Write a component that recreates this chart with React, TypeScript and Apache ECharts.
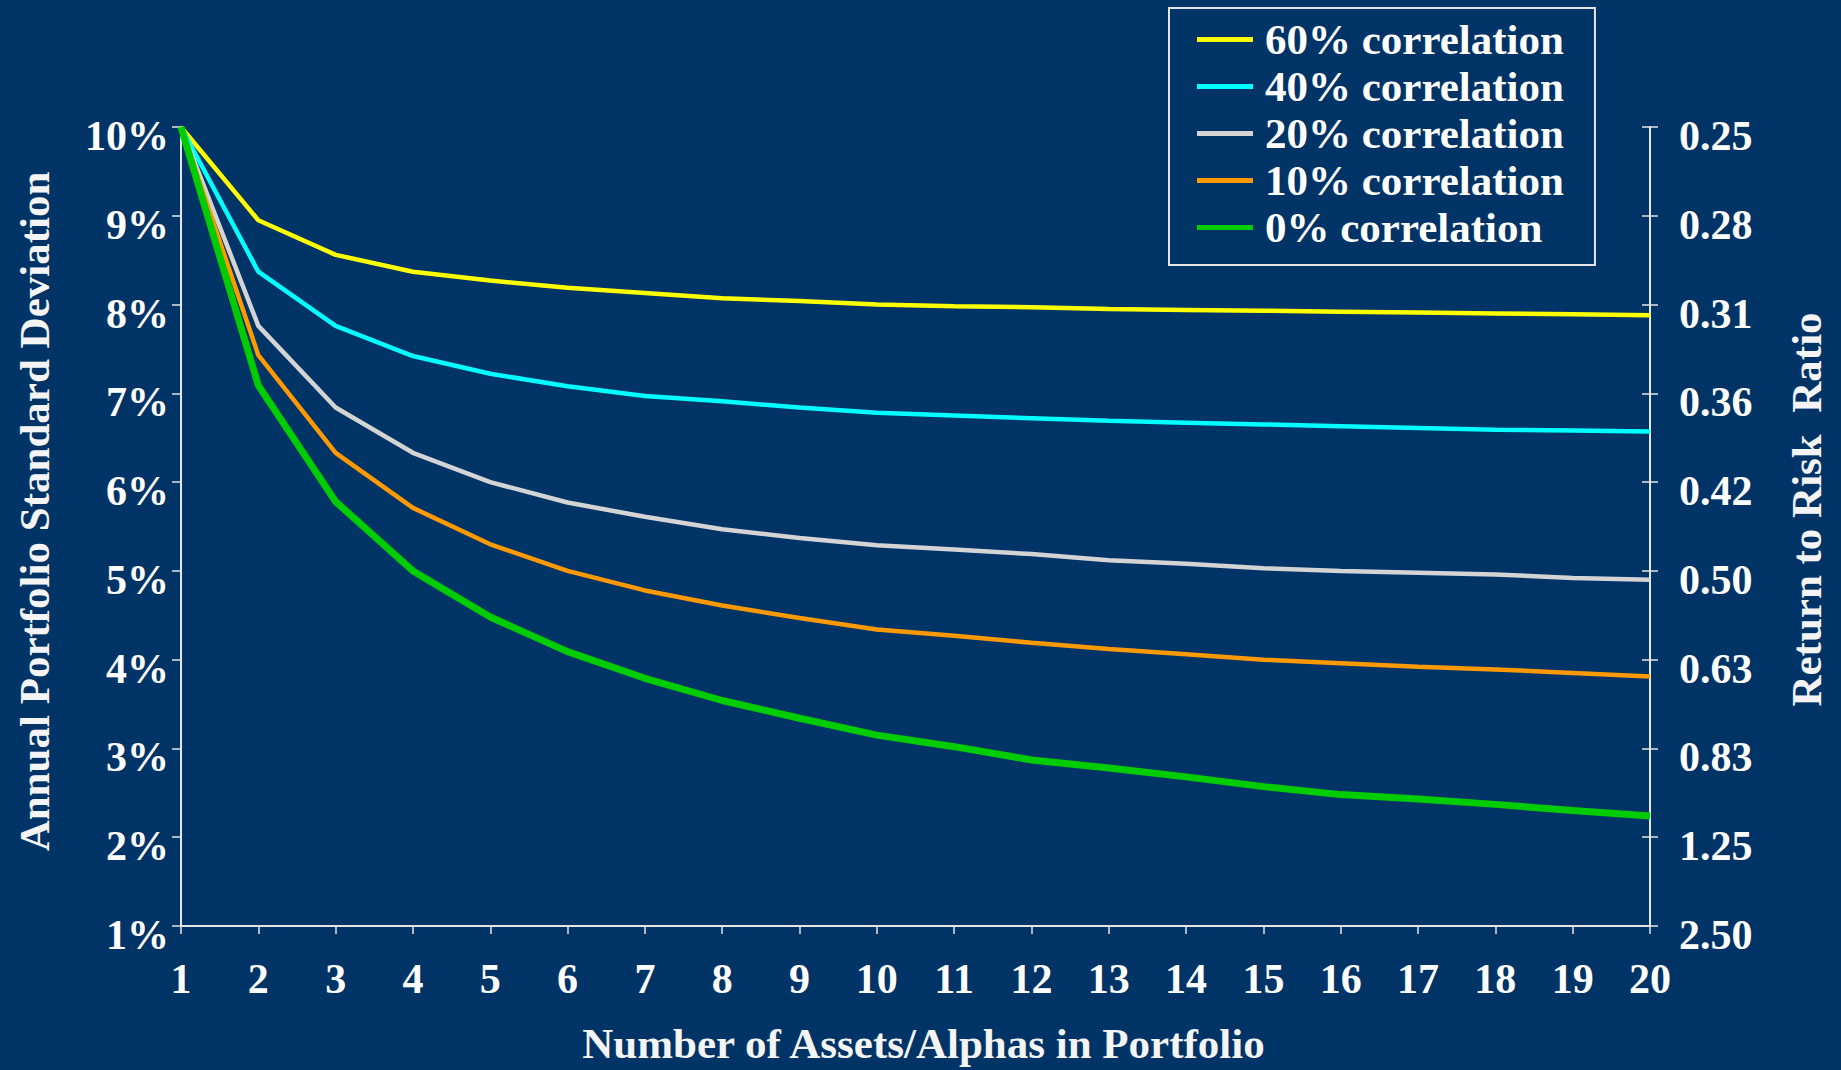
import React, { useEffect, useRef } from "react";
import * as echarts from "echarts";

const assetCounts = [1, 2, 3, 4, 5, 6, 7, 8, 9, 10, 11, 12, 13, 14, 15, 16, 17, 18, 19, 20];
const seriesNames = ["60% correlation", "40% correlation", "20% correlation", "10% correlation", "0% correlation"];
const seriesColors = ["#ffff00", "#00ffff", "#d4d4d4", "#ff9900", "#00cc00"];
const corr60 = [10, 8.95, 8.56, 8.37, 8.27, 8.19, 8.13, 8.07, 8.04, 8.0, 7.98, 7.97, 7.95, 7.94, 7.93, 7.92, 7.91, 7.9, 7.89, 7.88];
const corr40 = [10, 8.37, 7.76, 7.42, 7.22, 7.08, 6.97, 6.91, 6.84, 6.78, 6.75, 6.72, 6.69, 6.67, 6.65, 6.63, 6.61, 6.59, 6.58, 6.57];
const corr20 = [10, 7.76, 6.84, 6.33, 6.0, 5.77, 5.61, 5.47, 5.37, 5.29, 5.24, 5.19, 5.12, 5.08, 5.03, 5.0, 4.98, 4.96, 4.92, 4.9];
const corr10 = [10, 7.43, 6.33, 5.71, 5.3, 5.0, 4.78, 4.61, 4.47, 4.34, 4.27, 4.19, 4.12, 4.06, 4.0, 3.96, 3.92, 3.89, 3.85, 3.81];
const corr0 = [10, 7.09, 5.78, 5.0, 4.48, 4.09, 3.79, 3.54, 3.34, 3.15, 3.02, 2.87, 2.78, 2.68, 2.57, 2.48, 2.43, 2.37, 2.3, 2.24];
const seriesValues = [corr60, corr40, corr20, corr10, corr0];
const seriesWidths = [4.5, 4.5, 4.5, 4.5, 7];
// right-axis tick labels for 1%..10%
const ratioLabels = ["2.50", "1.25", "0.83", "0.63", "0.50", "0.42", "0.36", "0.31", "0.28", "0.25"];

const FONT = "'Liberation Serif', 'Times New Roman', serif";
const BG = "#003366";
const AXIS = "#e6e6e6";

export default function App() {
  const ref = useRef<HTMLDivElement>(null);

  useEffect(() => {
    if (!ref.current) return;
    const chart = echarts.init(ref.current, null, { renderer: "svg" });
    const labelStyle = { color: "#ffffff", fontFamily: FONT, fontWeight: "bold", fontSize: 42 };
    const nameStyle = { color: "#f4f4f4", fontFamily: FONT, fontWeight: "bold", fontSize: 43 };
    const lowered = { v: { ...labelStyle, padding: [18, 0, 0, 0] } };

    chart.setOption({
      animation: false,
      backgroundColor: BG,
      grid: { left: 181, right: 191, top: 127, bottom: 144, containLabel: false },
      legend: {
        orient: "vertical",
        left: 1169,
        top: 8,
        data: seriesNames,
        icon: "rect",
        itemWidth: 56,
        itemHeight: 5,
        itemGap: 0,
        padding: [8, 31, 14, 28],
        borderColor: "#e6e6e6",
        borderWidth: 2,
        backgroundColor: BG,
        selectedMode: false,
        textStyle: { ...nameStyle, color: "#ffffff", lineHeight: 47, padding: [0, 0, 0, 7] },
      },
      xAxis: {
        type: "value",
        min: 1,
        max: 20,
        interval: 1,
        name: "Number of Assets/Alphas in Portfolio",
        nameLocation: "middle",
        nameGap: 96,
        nameTextStyle: { ...nameStyle, padding: [0, 0, 0, 16] },
        axisLine: { show: true, lineStyle: { color: AXIS, width: 2 } },
        axisTick: { show: true, length: 8, lineStyle: { color: AXIS, width: 1.5 } },
        axisLabel: { ...labelStyle, margin: 32 },
        splitLine: { show: false },
      },
      yAxis: [
        {
          type: "value",
          position: "left",
          min: 1,
          max: 10,
          interval: 1,
          name: "Annual Portfolio Standard Deviation",
          nameLocation: "middle",
          nameRotate: 90,
          nameGap: 125,
          nameTextStyle: { ...nameStyle, padding: [0, 0, 0, 30] },
          axisLine: { show: true, lineStyle: { color: AXIS, width: 2 } },
          axisTick: { show: true, length: 9, lineStyle: { color: AXIS, width: 1.5 } },
          axisLabel: {
            ...labelStyle,
            margin: 12,
            formatter: (v: number) => "{v|" + v + "%}",
            rich: lowered,
          },
          splitLine: { show: false },
        },
        {
          type: "value",
          position: "right",
          min: 1,
          max: 10,
          interval: 1,
          name: "Return to Risk  Ratio",
          nameLocation: "middle",
          nameRotate: 90,
          nameGap: 135,
          nameTextStyle: { ...nameStyle, padding: [0, 0, 0, 34] },
          axisLine: { show: true, lineStyle: { color: AXIS, width: 2 } },
          axisTick: { show: true, length: 8, lineStyle: { color: AXIS, width: 1.5 } },
          axisLabel: {
            ...labelStyle,
            margin: 29,
            formatter: (v: number) => "{v|" + (ratioLabels[Math.round(v) - 1] ?? "") + "}",
            rich: lowered,
          },
          splitLine: { show: false },
        },
        {
          type: "value",
          position: "right",
          min: 1,
          max: 10,
          interval: 1,
          axisLine: { show: false },
          axisTick: { show: true, inside: true, length: 8, lineStyle: { color: AXIS, width: 1.5 } },
          axisLabel: { show: false },
          splitLine: { show: false },
        },
      ],
      series: seriesNames.map((name, i) => ({
        name,
        type: "line",
        yAxisIndex: 0,
        symbol: "none",
        color: seriesColors[i],
        lineStyle: { color: seriesColors[i], width: seriesWidths[i] },
        data: assetCounts.map((x, j) => [x, seriesValues[i][j]]),
        z: 2 + i,
      })),
    });

    return () => chart.dispose();
  }, []);

  return (
    <div
      ref={ref}
      style={{ position: "fixed", left: 0, top: 0, width: 1841, height: 1070, background: BG }}
    />
  );
}
